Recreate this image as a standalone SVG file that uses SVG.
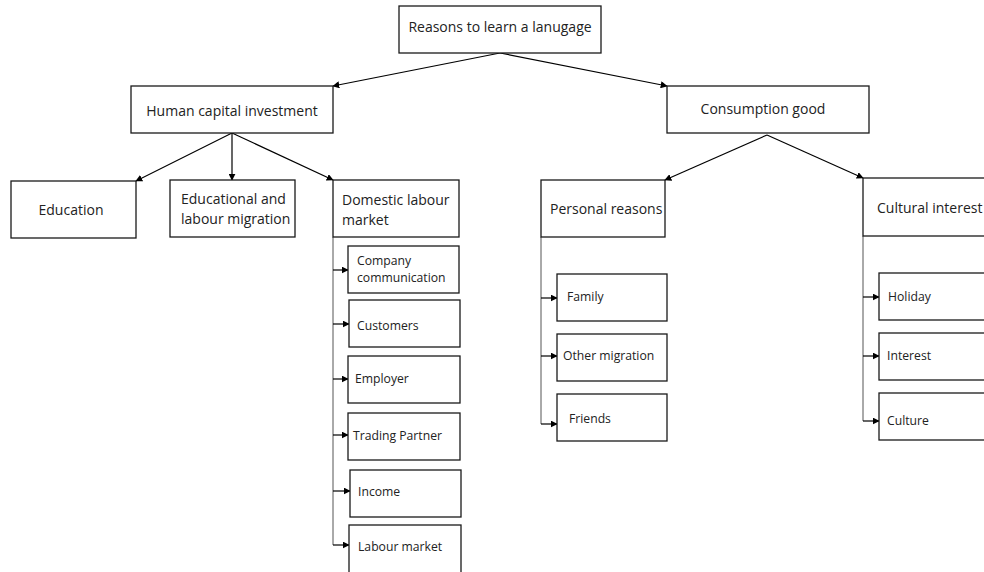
<svg xmlns="http://www.w3.org/2000/svg" width="984" height="572" viewBox="0 0 984 572">
<style>
.b{fill:#fff;stroke:#1a1a1a;stroke-width:1.3}
.t{font-family:"Open Sans","Liberation Sans",sans-serif;font-size:14px;fill:#222}
.s{font-family:"Open Sans","Liberation Sans",sans-serif;font-size:12.2px;fill:#222}
.c{fill:none;stroke:#000;stroke-width:1.2;marker-end:url(#a)}
.v{fill:none;stroke:#555;stroke-width:1}
</style>
<defs>
<marker id="a" viewBox="0 0 10 10" refX="9" refY="5" markerWidth="7" markerHeight="7" markerUnits="userSpaceOnUse" orient="auto"><path d="M0,0L10,5L0,10z" fill="#000"/></marker>
</defs>
<rect width="984" height="572" fill="#fff"/>
<g id="connectors">
<path class="c" d="M500,53L333,86"/>
<path class="c" d="M500,53L667,86"/>
<path class="c" d="M232,133L136,181"/>
<path class="c" d="M232,133L232,180"/>
<path class="c" d="M232,133L333,180"/>
<path class="c" d="M767,135L665,180"/>
<path class="c" d="M767,135L863,178"/>
<path class="v" d="M333,237V545"/>
<path class="c" d="M333,270H348"/>
<path class="c" d="M333,324H349"/>
<path class="c" d="M333,379H348"/>
<path class="c" d="M333,435H348"/>
<path class="c" d="M333,491H350"/>
<path class="c" d="M333,545H349"/>
<path class="v" d="M541,237V424"/>
<path class="c" d="M541,298H557"/>
<path class="c" d="M541,356H557"/>
<path class="c" d="M541,424H557"/>
<path class="v" d="M863,236V421"/>
<path class="c" d="M863,297H879"/>
<path class="c" d="M863,356H879"/>
<path class="c" d="M863,421H879"/>
</g>
<g id="root"><rect class="b" x="399" y="6" width="202" height="47"/><text class="t" x="500" y="32" text-anchor="middle">Reasons to learn a lanugage</text></g>
<g id="human"><rect class="b" x="131" y="86" width="202" height="47"/><text class="t" x="232" y="116" text-anchor="middle">Human capital investment</text></g>
<g id="consumption"><rect class="b" x="667" y="86" width="202" height="47"/><text class="t" x="763" y="114" text-anchor="middle">Consumption good</text></g>
<g id="education"><rect class="b" x="11" y="181" width="125" height="57"/><text class="t" x="71" y="215" text-anchor="middle">Education</text></g>
<g id="edumig"><rect class="b" x="170" y="180" width="125" height="57"/><text class="t" x="181" y="204">Educational and</text><text class="t" x="181" y="224">labour migration</text></g>
<g id="domestic"><rect class="b" x="333" y="180" width="126" height="57"/><text class="t" x="342" y="205">Domestic labour</text><text class="t" x="342" y="225">market</text></g>
<g id="company"><rect class="b" x="348" y="246" width="111" height="47"/><text class="s" x="357" y="265">Company</text><text class="s" x="357" y="282">communication</text></g>
<g id="customers"><rect class="b" x="349" y="300" width="111" height="47"/><text class="s" x="357" y="330">Customers</text></g>
<g id="employer"><rect class="b" x="348" y="356" width="112" height="47"/><text class="s" x="355" y="383">Employer</text></g>
<g id="trading"><rect class="b" x="348" y="413" width="112" height="47"/><text class="s" x="353" y="440">Trading Partner</text></g>
<g id="income"><rect class="b" x="350" y="470" width="111" height="47"/><text class="s" x="358" y="496">Income</text></g>
<g id="labour"><rect class="b" x="349" y="525" width="112" height="60"/><text class="s" x="358" y="551">Labour market</text></g>
<g id="personal"><rect class="b" x="541" y="180" width="124" height="57"/><text class="t" x="550" y="214">Personal reasons</text></g>
<g id="cultural"><rect class="b" x="863" y="178" width="130" height="58"/><text class="t" x="877" y="213">Cultural interest</text></g>
<g id="family"><rect class="b" x="557" y="274" width="110" height="47"/><text class="s" x="567" y="301">Family</text></g>
<g id="othermig"><rect class="b" x="557" y="334" width="110" height="47"/><text class="s" x="563" y="360">Other migration</text></g>
<g id="friends"><rect class="b" x="557" y="394" width="110" height="47"/><text class="s" x="569" y="423">Friends</text></g>
<g id="holiday"><rect class="b" x="879" y="273" width="112" height="47"/><text class="s" x="888" y="301">Holiday</text></g>
<g id="interest"><rect class="b" x="879" y="333" width="112" height="47"/><text class="s" x="887" y="360">Interest</text></g>
<g id="culture"><rect class="b" x="879" y="393" width="112" height="47"/><text class="s" x="887" y="425">Culture</text></g>
</svg>
